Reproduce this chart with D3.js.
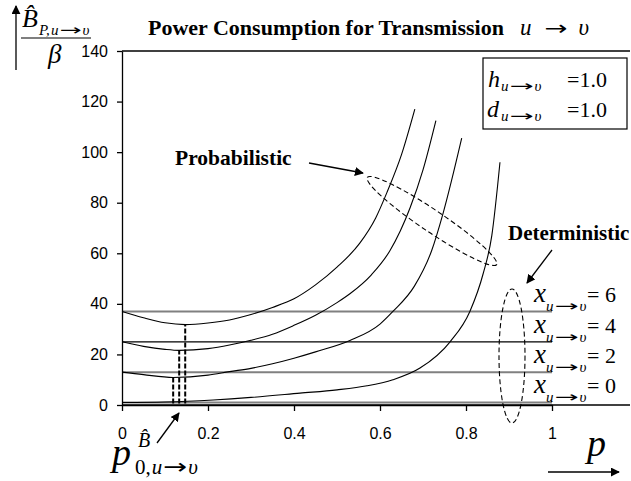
<!DOCTYPE html>
<html>
<head>
<meta charset="utf-8">
<script src="https://cdn.jsdelivr.net/npm/d3@7"></script>
<style>
  body { margin: 0; background: #fff; }
  svg { display: block; }
  .serif { font-family: "Liberation Serif", "Times New Roman", serif; }
</style>
</head>
<body>
<script>
// chart data
var xTicks = [0, 0.2, 0.4, 0.6, 0.8, 1];
var yTicks = [0, 20, 40, 60, 80, 100, 120, 140];

// probabilistic curves, [p, B/beta]
var probX6 = [[0, 37], [0.05, 34.5], [0.1, 32.5], [0.147, 31.8], [0.2, 32.4], [0.25, 33.6], [0.3, 35.8], [0.35, 38.6],
  [0.4, 42], [0.45, 47.5], [0.5, 54.5], [0.553, 64], [0.59, 74], [0.616, 84], [0.65, 99], [0.681, 117]];
var probX4 = [[0, 25], [0.05, 23.2], [0.1, 22], [0.133, 21.6], [0.2, 22.3], [0.25, 23.7], [0.3, 25.6], [0.35, 28],
  [0.4, 31.5], [0.45, 35.5], [0.5, 40.5], [0.53, 44], [0.58, 51.5], [0.623, 61], [0.67, 78], [0.7, 93], [0.73, 112.5]];
var probX2 = [[0, 13], [0.05, 12], [0.119, 10.9], [0.2, 11.8], [0.25, 13.2], [0.3, 14.5], [0.35, 16.3], [0.4, 18.5],
  [0.45, 21], [0.53, 25.5], [0.6, 32], [0.63, 37], [0.68, 47], [0.72, 61], [0.747, 76], [0.79, 105.5]];
var probX0 = [[0, 1], [0.1, 1.2], [0.212, 2], [0.3, 3], [0.414, 4.7], [0.5, 6], [0.57, 7.6], [0.63, 10],
  [0.693, 14.6], [0.763, 25], [0.809, 37], [0.84, 52], [0.86, 67], [0.879, 96]];

// deterministic levels (flat lines) and their x values
var detLevels = [37, 25, 13, 1];
var detX = [6, 4, 2, 0];
var detColors = ["#808080", "#000", "#808080", "#808080"];

// minima of the probabilistic curves (p0), dashed drop lines
var minP = [0.119, 0.133, 0.147];
var minV = [10.9, 21.6, 31.8];

var svgWidth = 631;
var svgHeight = 481;

var svg = d3.select("body")
  .append("svg")
  .attr("width", svgWidth)
  .attr("height", svgHeight);

svg.append("defs").append("marker")
  .attr("id", "arrow")
  .attr("viewBox", "0 0 10 10")
  .attr("refX", 9).attr("refY", 5)
  .attr("markerWidth", 9).attr("markerHeight", 9)
  .attr("markerUnits", "userSpaceOnUse")
  .attr("orient", "auto")
  .append("path")
  .attr("d", "M0,0 L10,5 L0,10 z")
  .attr("fill", "#000");

var xScale = d3.scaleLinear().domain([0, 1]).range([122, 552]);
var yScale = d3.scaleLinear().domain([0, 140]).range([405, 51]);
var plotRight = 630;

// frame: top border
svg.append("line")
  .attr("x1", xScale(0)).attr("x2", plotRight)
  .attr("y1", yScale(140)).attr("y2", yScale(140))
  .attr("stroke", "#000").attr("stroke-width", 1.3);

// deterministic flat lines
detLevels.forEach(function(v, i) {
  svg.append("line")
    .attr("x1", xScale(0)).attr("x2", xScale(1))
    .attr("y1", yScale(v)).attr("y2", yScale(v))
    .attr("stroke", detColors[i])
    .attr("stroke-width", i == 1 ? 1.2 : 2);
});

// probabilistic curves
var line = d3.line()
  .x(d => xScale(d[0]))
  .y(d => yScale(d[1]))
  .curve(d3.curveMonotoneX);

[probX6, probX4, probX2, probX0].forEach(function(c) {
  svg.append("path")
    .datum(c)
    .attr("d", line)
    .attr("fill", "none")
    .attr("stroke", "#000")
    .attr("stroke-width", 1.1);
});

// dashed drop lines at the minima
minP.forEach(function(p, i) {
  svg.append("line")
    .attr("x1", xScale(p)).attr("x2", xScale(p))
    .attr("y1", yScale(0.6)).attr("y2", yScale(minV[i]))
    .attr("stroke", "#000")
    .attr("stroke-width", 2)
    .attr("stroke-dasharray", "5,2");
});

// axes
var leftAxis = d3.axisLeft(yScale).tickValues(yTicks).tickSize(5).tickSizeOuter(0).tickPadding(9);
var bottomAxis = d3.axisBottom(xScale).tickValues(xTicks).tickSize(6).tickSizeOuter(0).tickPadding(17)
  .tickFormat(d => d == 0 || d == 1 ? d3.format("d")(d) : d3.format(".1f")(d));

var gy = svg.append("g").attr("transform", "translate(" + xScale(0) + ",0)").call(leftAxis);
var gx = svg.append("g").attr("transform", "translate(0," + yScale(0) + ")").call(bottomAxis);
[gx, gy].forEach(function(g) {
  g.selectAll("text").attr("font-family", "Liberation Sans, Arial, sans-serif").attr("font-size", 16).attr("fill", "#000");
  g.selectAll("line").attr("stroke", "#000").attr("stroke-width", 1.3);
  g.select(".domain").attr("stroke", "#000").attr("stroke-width", 1.3);
});
svg.append("line")
  .attr("x1", xScale(0)).attr("x2", plotRight)
  .attr("y1", yScale(0)).attr("y2", yScale(0))
  .attr("stroke", "#000").attr("stroke-width", 1.3);

// writes a row of text pieces, left to right; arrow pieces are stretched to a width
function row(x, y, parts) {
  parts.forEach(function(p) {
    var t = svg.append("text").attr("class", "serif")
      .attr("x", x + (p.dx || 0)).attr("y", y + (p.dy || 0))
      .attr("font-size", p.size)
      .attr("font-style", p.italic ? "italic" : "normal")
      .attr("font-weight", p.bold ? "bold" : "normal")
      .text(p.text);
    if (p.arrow) t.style("font-family", "DejaVu Sans, sans-serif");
    if (p.width) {
      t.attr("textLength", p.width).attr("lengthAdjust", "spacingAndGlyphs");
      x += p.width + (p.gap || 0);
    } else {
      x += t.node().getComputedTextLength() + (p.gap || 0);
    }
  });
  return x;
}

// subscript "u -> v" at a given size
function uv(size, dy, arrowW) {
  return [
    {text: "u", size: size, italic: true, dy: dy, gap: 1},
    {text: "\u2192", size: size, dy: dy, width: arrowW, arrow: true, gap: 1},
    {text: "\u03c5", size: size, italic: true, dy: dy}
  ];
}

// title
row(148, 35, [{text: "Power Consumption for Transmission", size: 22, bold: true}]);
row(520, 35, [{text: "u", size: 23, italic: true, gap: 13},
  {text: "\u2192", size: 20, width: 23, arrow: true, gap: 11},
  {text: "\u03c5", size: 23, italic: true}]);

// parameter box
svg.append("rect")
  .attr("x", 483).attr("y", 58).attr("width", 144).attr("height", 71)
  .attr("fill", "#fff").attr("stroke", "#000").attr("stroke-width", 1.2);
row(488, 87, [{text: "h", size: 24, italic: true, gap: 1}].concat(uv(15, 4, 24)));
row(487, 117, [{text: "d", size: 24, italic: true, gap: 2}].concat(uv(15, 4, 24)));
row(567, 87, [{text: "=1.0", size: 22}]);
row(567, 117, [{text: "=1.0", size: 22}]);

// deterministic labels
detLevels.forEach(function(v, i) {
  var yy = yScale(v) - 9;
  row(534, yy, [{text: "x", size: 27, italic: true, gap: 0}].concat(uv(15, 9, 24)));
  row(587, yy, [{text: "= " + detX[i], size: 22}]);
});

// annotations
row(175, 165, [{text: "Probabilistic", size: 21.5, bold: true}]);
svg.append("line").attr("x1", 309).attr("y1", 163).attr("x2", 363).attr("y2", 173)
  .attr("stroke", "#000").attr("stroke-width", 1.3).attr("marker-end", "url(#arrow)");
svg.append("ellipse")
  .attr("cx", 0).attr("cy", 0).attr("rx", 78).attr("ry", 11)
  .attr("transform", "translate(432,221) rotate(34)")
  .attr("fill", "none").attr("stroke", "#000").attr("stroke-width", 1.1).attr("stroke-dasharray", "5,3");

row(508, 240, [{text: "Deterministic", size: 21, bold: true}]);
svg.append("line").attr("x1", 552).attr("y1", 250).attr("x2", 527).attr("y2", 283)
  .attr("stroke", "#000").attr("stroke-width", 1.3).attr("marker-end", "url(#arrow)");
svg.append("ellipse")
  .attr("cx", 512).attr("cy", 356).attr("rx", 13).attr("ry", 67)
  .attr("fill", "none").attr("stroke", "#000").attr("stroke-width", 1.1).attr("stroke-dasharray", "5,3");

// y axis label: B-hat_{P,u->v} / beta with arrow
svg.append("line").attr("x1", 16).attr("y1", 70).attr("x2", 16).attr("y2", 6)
  .attr("stroke", "#000").attr("stroke-width", 1.3).attr("marker-end", "url(#arrow)");
row(22, 27, [{text: "B\u0302", size: 26, italic: true, gap: 1},
  {text: "P,", size: 15, italic: true, dy: 8, gap: 1}].concat(uv(15, 8, 22)));
svg.append("line").attr("x1", 21).attr("x2", 91).attr("y1", 38).attr("y2", 38)
  .attr("stroke", "#000").attr("stroke-width", 1.2);
row(48, 63, [{text: "\u03b2", size: 27, italic: true}]);

// p0 label under the axis
row(112, 465, [{text: "p", size: 38, italic: true}]);
row(138, 447, [{text: "B\u0302", size: 20, italic: true}]);
row(135, 474, [{text: "0,", size: 21, gap: 1}].concat(uv(21, 0, 24)));
svg.append("line").attr("x1", 157).attr("y1", 443).attr("x2", 179).attr("y2", 413)
  .attr("stroke", "#000").attr("stroke-width", 1.3).attr("marker-end", "url(#arrow)");

// p label with arrow, bottom right
row(587, 456, [{text: "p", size: 38, italic: true}]);
svg.append("line").attr("x1", 548).attr("y1", 472).attr("x2", 619).attr("y2", 472)
  .attr("stroke", "#000").attr("stroke-width", 1.3).attr("marker-end", "url(#arrow)");
</script>
</body>
</html>
